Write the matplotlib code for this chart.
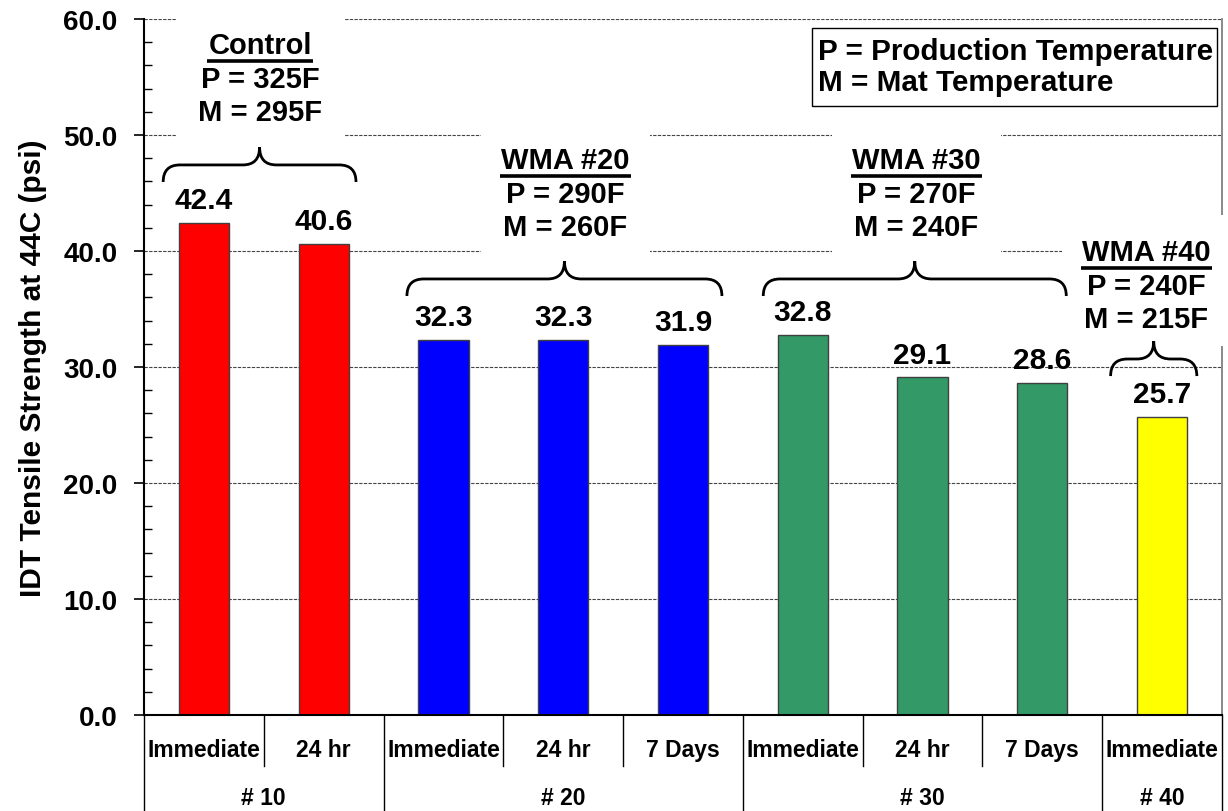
import matplotlib
matplotlib.use("Agg")
import matplotlib.pyplot as plt
from matplotlib import font_manager
from matplotlib.path import Path
from matplotlib.patches import PathPatch, Rectangle
from matplotlib.ticker import MultipleLocator, FormatStrFormatter

# IDT tensile strength at 44C, by mix and reheat timing
groups = ['# 10', '# 20', '# 30', '# 40']
group_sizes = [2, 3, 3, 1]
timings = ['Immediate', '24 hr', 'Immediate', '24 hr', '7 Days',
           'Immediate', '24 hr', '7 Days', 'Immediate']
strength = [42.4, 40.6, 32.3, 32.3, 31.9, 32.8, 29.1, 28.6, 25.7]
mix_names = ['Control', 'WMA #20', 'WMA #30', 'WMA #40']
production_temp = [325, 290, 270, 240]
mat_temp = [295, 260, 240, 215]
group_colors = ['#FF0000', '#0000FF', '#339966', '#FFFF00']

# caption / brace placement for each mix (data units)
caption_x = [0.47, 3.02, 5.95, 7.87]
caption_y = [51.98, 42.07, 42.07, 34.14]
brace_left = [-0.34, 1.695, 4.67, 7.57]
brace_right = [1.27, 4.325, 7.20, 8.29]
brace_y = [45.95, 36.12, 36.12, 29.22]

plt.rcParams['font.family'] = ['Liberation Sans', 'DejaVu Sans']
plt.rcParams['font.weight'] = 'bold'

names = {f.name for f in font_manager.fontManager.ttflist}
if 'Liberation Sans Narrow' in names:
    cat_font = dict(family=['Liberation Sans Narrow', 'Liberation Sans'], size=19)
else:
    cat_font = dict(family=['Liberation Sans', 'DejaVu Sans'], size=16.5)

fig = plt.figure(figsize=(12.28, 8.12), dpi=100)
ax = fig.add_axes([144 / 1228, 96 / 812, 1078 / 1228, 696 / 812])

colors = []
for c, n in zip(group_colors, group_sizes):
    colors += [c] * n
xs = list(range(len(strength)))

ax.bar(xs, strength, width=0.42, color=colors, edgecolor='#404040',
       linewidth=1, zorder=2)
for x, v in zip(xs, strength):
    ax.annotate(f'{v:.1f}', (x, v), xytext=(0, 16.5), textcoords='offset points',
                ha='center', va='center', fontsize=21.5, fontweight='bold', zorder=6)

ax.set_xlim(-0.5, 8.5)
ax.set_ylim(0, 60)
ax.yaxis.set_major_locator(MultipleLocator(10))
ax.yaxis.set_minor_locator(MultipleLocator(2))
ax.yaxis.set_major_formatter(FormatStrFormatter('%.1f'))
ax.tick_params(axis='y', which='major', direction='out', length=7, width=1.2,
               pad=12, labelsize=20)
ax.tick_params(axis='y', which='minor', direction='in', length=6, width=1)
ax.set_xticks([])
ax.grid(axis='y', which='major', color='#444444', linestyle=(0, (3, 1.2)),
        linewidth=0.8)
ax.set_axisbelow(True)

ax.spines['top'].set_visible(False)
ax.spines['left'].set_linewidth(1.5)
ax.spines['bottom'].set_linewidth(1.5)
ax.spines['right'].set_color('#808080')
ax.spines['right'].set_linewidth(1.3)

ax.set_ylabel('IDT Tensile Strength at 44C (psi)', fontsize=21.5,
              fontweight='bold', labelpad=12)

# two-row category axis: timing row and mix-number row
xt = ax.get_xaxis_transform()
for x, lab in zip(xs, timings):
    ax.text(x, -0.049, lab, transform=xt, ha='center', va='center',
            fontweight='bold', **cat_font)
bounds = [-0.5]
for n in group_sizes:
    bounds.append(bounds[-1] + n)
for i in range(len(xs) + 1):
    b = i - 0.5
    bottom = -0.2 if b in bounds else -0.0733
    ax.plot([b, b], [0, bottom], transform=xt, color='black', lw=1,
            clip_on=False, zorder=3)
for g, lo, hi in zip(groups, bounds[:-1], bounds[1:]):
    ax.text((lo + hi) / 2, -0.119, g, transform=xt, ha='center', va='center',
            fontweight='bold', **cat_font)


def draw_brace(x0, x1, y0):
    xc = (x0 + x1) / 2
    rx = 0.14
    ym = y0 + 1.47
    yt = y0 + 3.0
    verts = [(x0, y0), (x0, ym), (x0 + rx, ym),
             (xc - rx, ym), (xc, ym), (xc, yt),
             (xc, ym), (xc + rx, ym),
             (x1 - rx, ym), (x1, ym), (x1, y0)]
    codes = [Path.MOVETO, Path.CURVE3, Path.CURVE3,
             Path.LINETO, Path.CURVE3, Path.CURVE3,
             Path.CURVE3, Path.CURVE3,
             Path.LINETO, Path.CURVE3, Path.CURVE3]
    ax.add_patch(PathPatch(Path(verts, codes), facecolor='none',
                           edgecolor='black', lw=2, zorder=6, clip_on=False))


renderer = fig.canvas.get_renderer()
inv = ax.transData.inverted()
for i, name in enumerate(mix_names):
    cx, my = caption_x[i], caption_y[i]
    ax.add_patch(Rectangle((cx - 0.705, my - 2.3), 1.41, 5.78 + 3.2 + 2.3,
                           facecolor='white', edgecolor='none', zorder=4,
                           clip_on=False))
    t = ax.text(cx, my + 5.78, name, ha='center', va='center', fontsize=21,
                fontweight='bold', zorder=6)
    ax.text(cx, my + 2.84, f'P = {production_temp[i]}F', ha='center',
            va='center', fontsize=21, fontweight='bold', zorder=6)
    ax.text(cx, my, f'M = {mat_temp[i]}F', ha='center', va='center',
            fontsize=21, fontweight='bold', zorder=6)
    bb = t.get_window_extent(renderer=renderer)
    (ux0, _), (ux1, _) = inv.transform([(bb.x0, 0), (bb.x1, 0)])
    uy = my + 5.78 - 1.38
    ax.plot([ux0 - 0.01, ux1 + 0.01], [uy, uy], color='black', lw=2.6,
            solid_capstyle='butt', zorder=6, clip_on=False)
    draw_brace(brace_left[i], brace_right[i], brace_y[i])

# key for the P / M abbreviations
ax.add_patch(Rectangle((5.076, 52.5), 3.381, 6.72, facecolor='white',
                       edgecolor='black', lw=1, zorder=5))
ax.text(5.126, 57.24, 'P = Production Temperature', ha='left', va='center',
        fontsize=21.3, fontweight='bold', zorder=6)
ax.text(5.126, 54.57, 'M = Mat Temperature', ha='left', va='center',
        fontsize=21.3, fontweight='bold', zorder=6)

fig.savefig('out.png', dpi=100)
